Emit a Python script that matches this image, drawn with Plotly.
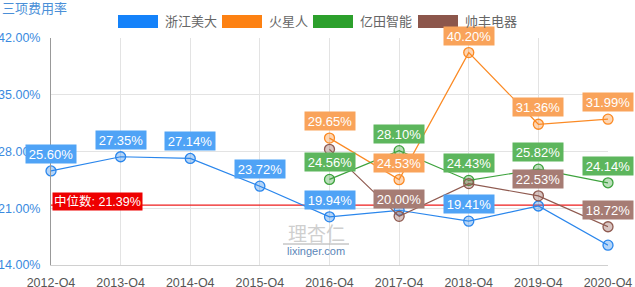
import plotly.graph_objects as go

quarters = ["2012-Q4", "2013-Q4", "2014-Q4", "2015-Q4", "2016-Q4",
            "2017-Q4", "2018-Q4", "2019-Q4", "2020-Q4"]
zjmd = [25.60, 27.35, 27.14, 23.72, 19.94, 20.75, 19.41, 21.28, 16.45]
hxr = [None, None, None, None, 29.65, 24.53, 40.20, 31.36, 31.99]
ytzn = [None, None, None, None, 24.56, 28.10, 24.43, 25.82, 24.14]
sfdq = [None, None, None, None, 28.27, 20.00, 24.04, 22.53, 18.72]
median = 21.39
series_names = ["浙江美大", "火星人", "亿田智能", "帅丰电器"]
# which point labels are shown (others hidden by overlap in the original)
label_shown = [
    [1, 1, 1, 1, 1, 0, 1, 0, 0],
    [0, 0, 0, 0, 1, 1, 1, 1, 1],
    [0, 0, 0, 0, 1, 1, 1, 1, 1],
    [0, 0, 0, 0, 0, 1, 0, 1, 1],
]
y_ticks = [14, 21, 28, 35, 42]

line_cols = ["#2a86ec", "#fb8a24", "#3da23d", "#8f5a50"]
fill_cols = ["rgba(42,134,236,0.35)", "rgba(251,138,36,0.35)",
             "rgba(61,162,61,0.35)", "rgba(143,90,80,0.35)"]
label_cols = ["#4fa3f6", "#f9a35a", "#5db65d", "#a67c74"]
legend_cols = ["#1482fa", "#fd8112", "#2ca02c", "#8c564b"]

FONT = "Liberation Sans, Arial, Noto Sans CJK SC, sans-serif"
W, H = 635, 287
L, R, T, B = 51, 608, 38, 265


def px(xp):
    return (xp - L) / (R - L)


def py(yp):
    return (B - yp) / (B - T)


fig = go.Figure()
all_series = [zjmd, hxr, ytzn, sfdq]

fig.add_trace(go.Scatter(
    x=quarters, y=[median] * len(quarters), mode="lines",
    line=dict(color="#ee1c1c", width=1.3), showlegend=False, hoverinfo="skip"))

for name, vals, lc, fc in zip(series_names, all_series, line_cols, fill_cols):
    fig.add_trace(go.Scatter(
        x=quarters, y=vals, name=name, mode="lines+markers",
        line=dict(color=lc, width=1.2),
        marker=dict(size=10, color=fc, line=dict(color=lc, width=1.3)),
        connectgaps=False, showlegend=False, cliponaxis=False))

annotations = []
for vals, shown, bg in zip(all_series, label_shown, label_cols):
    for q, v, s in zip(quarters, vals, shown):
        if v is None or not s:
            continue
        annotations.append(dict(
            x=q, y=v, xref="x", yref="y", text=f"{v:.2f}%", showarrow=False,
            yshift=17, bgcolor=bg, borderpad=2, width=46, height=14,
            font=dict(family=FONT, size=13, color="white")))

annotations.append(dict(
    x=quarters[0], y=median, xref="x", yref="y", text=f"中位数: {median:.2f}%",
    showarrow=False, xanchor="left", xshift=1, yshift=4, bgcolor="#ee0000",
    borderpad=1, font=dict(family=FONT, size=12.5, color="white")))

# title
annotations.append(dict(
    x=px(0), y=py(8), xref="paper", yref="paper", text="三项费用率",
    showarrow=False, xanchor="left", yanchor="middle",
    font=dict(family=FONT, size=13, color="#4a8fd8")))

# legend
shapes = []
leg_rect_x = [118, 222, 313, 418]
for name, lx, c in zip(series_names, leg_rect_x, legend_cols):
    shapes.append(dict(type="rect", xref="paper", yref="paper",
                       x0=px(lx), x1=px(lx + 40), y0=py(28), y1=py(15),
                       fillcolor=c, line=dict(width=0)))
    annotations.append(dict(
        x=px(lx + 45), y=py(21.5), xref="paper", yref="paper", text=name,
        showarrow=False, xanchor="left", yanchor="middle",
        font=dict(family=FONT, size=13, color="#666666")))

# watermark
annotations.append(dict(
    x=px(316), y=py(232), xref="paper", yref="paper", text="理杏仁",
    showarrow=False, xanchor="center", yanchor="middle",
    font=dict(family="Noto Sans CJK SC", size=19, color="#cfcfcf")))
annotations.append(dict(
    x=px(316), y=py(251), xref="paper", yref="paper", text="lixinger.com",
    showarrow=False, xanchor="center", yanchor="middle",
    font=dict(family=FONT, size=11, color="#5b86b8")))
shapes.append(dict(type="line", xref="paper", yref="paper",
                   x0=px(283), x1=px(349), y0=py(244), y1=py(244),
                   line=dict(color="#aaaaaa", width=1)))

fig.update_layout(
    width=W, height=H,
    margin=dict(l=L, r=W - R, t=T, b=H - B, pad=0),
    paper_bgcolor="white", plot_bgcolor="white",
    font=dict(family=FONT, size=12),
    annotations=annotations, shapes=shapes,
    showlegend=False,
    xaxis=dict(type="category", range=[0, len(quarters) - 1], automargin=False,
               showgrid=True, gridcolor="#e3e3e3", gridwidth=1,
               showline=True, linecolor="#d0d0d0", linewidth=1,
               ticks="outside", ticklen=6, tickcolor="rgba(0,0,0,0)",
               tickfont=dict(family=FONT, size=12.5, color="#555555"),
               zeroline=False, fixedrange=True),
    yaxis=dict(range=[y_ticks[0], y_ticks[-1]], tickvals=y_ticks, automargin=False,
               ticktext=[f"{v:.2f}%" for v in y_ticks],
               showgrid=True, gridcolor="#e3e3e3", gridwidth=1,
               showline=True, linecolor="#999999", linewidth=1,
               ticks="outside", ticklen=7, tickcolor="rgba(0,0,0,0)",
               tickfont=dict(family=FONT, size=12.5, color="#3a8ae0"),
               zeroline=False, fixedrange=True),
)

fig.write_html("out.html")
